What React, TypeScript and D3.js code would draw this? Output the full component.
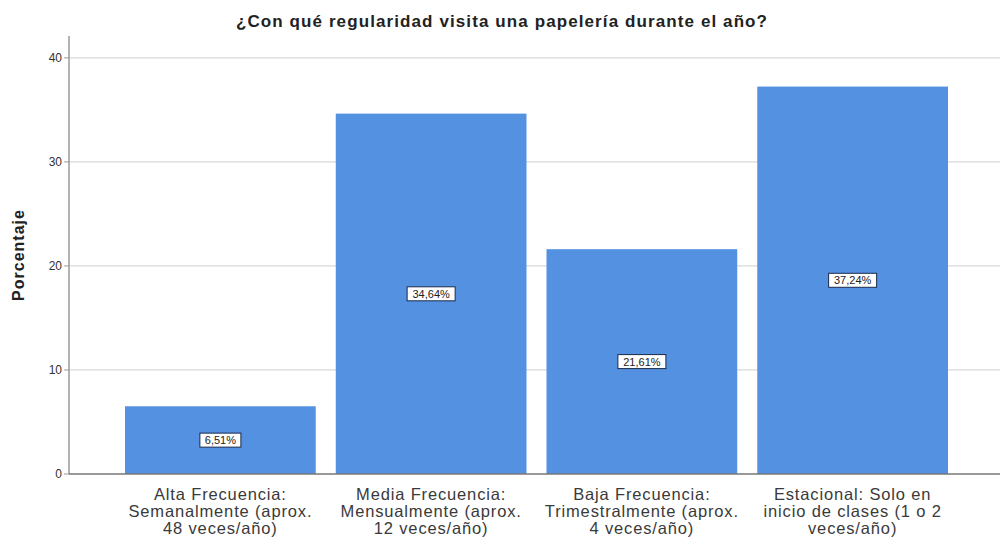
import React from "react";
import * as d3 from "d3";

const title = "¿Con qué regularidad visita una papelería durante el año?";
const yTitle = "Porcentaje";
const categories: string[][] = [
  ["Alta Frecuencia:", "Semanalmente (aprox.", "48 veces/año)"],
  ["Media Frecuencia:", "Mensualmente (aprox.", "12 veces/año)"],
  ["Baja Frecuencia:", "Trimestralmente (aprox.", "4 veces/año)"],
  ["Estacional: Solo en", "inicio de clases (1 o 2", "veces/año)"],
];
const values = [6.51, 34.64, 21.61, 37.24];
const valueLabels = ["6,51%", "34,64%", "21,61%", "37,24%"];
const yTicks = [0, 10, 20, 30, 40];

const W = 1000;
const H = 544;
const plotLeft = 69;
const plotRight = 1000;
const plotTop = 36;
const plotBottom = 474;
const barColor = "#5591e1";
const font = "'Liberation Sans', Arial, sans-serif";

export default function App() {
  const keys = categories.map((_, i) => String(i));
  const x = d3
    .scaleBand<string>()
    .domain(keys)
    .range([115, 958])
    .paddingInner(0.095)
    .paddingOuter(0.0475);
  const y = d3.scaleLinear().domain([0, 42.1]).range([plotBottom, plotTop]);

  return (
    <svg
      width={W}
      height={H}
      style={{ position: "absolute", left: 0, top: 0, background: "#fff" }}
      fontFamily={font}
    >
      <rect x={0} y={0} width={W} height={H} fill="#fff" />
      <text
        x={502}
        y={27}
        textAnchor="middle"
        fontSize={17}
        letterSpacing={1.1}
        fontWeight="bold"
        fill="#222"
      >
        {title}
      </text>
      {/* gridlines */}
      {yTicks
        .filter((t) => t > 0)
        .map((t) => (
          <line
            key={"g" + t}
            x1={plotLeft}
            x2={plotRight}
            y1={y(t)}
            y2={y(t)}
            stroke="#d8d8d8"
            strokeWidth={1.2}
          />
        ))}
      {/* bars */}
      {values.map((v, i) => (
        <rect
          key={"b" + i}
          x={x(keys[i])}
          y={y(v)}
          width={x.bandwidth()}
          height={y(0) - y(v)}
          fill={barColor}
        />
      ))}
      {/* axes */}
      <line x1={plotLeft} x2={plotLeft} y1={plotTop} y2={plotBottom} stroke="#9a9a9a" strokeWidth={1.5} />
      <line x1={plotLeft} x2={plotRight} y1={plotBottom} y2={plotBottom} stroke="#777" strokeWidth={1.5} />
      {yTicks.map((t) => (
        <g key={"t" + t}>
          <line x1={plotLeft - 5} x2={plotLeft} y1={y(t)} y2={y(t)} stroke="#9a9a9a" strokeWidth={1} />
          <text
            x={plotLeft - 7}
            y={y(t)}
            dy="0.35em"
            textAnchor="end"
            fontSize={12}
            fill="#333"
          >
            {t}
          </text>
        </g>
      ))}
      <text
        transform={`translate(24, 255) rotate(-90)`}
        textAnchor="middle"
        fontSize={16}
        letterSpacing={1}
        fontWeight="bold"
        fill="#222"
      >
        {yTitle}
      </text>
      {/* category labels */}
      {categories.map((lines, i) => (
        <text
          key={"c" + i}
          x={(x(keys[i]) as number) + x.bandwidth() / 2}
          y={500}
          textAnchor="middle"
          fontSize={16.5}
          letterSpacing={0.85}
          fill="#3a3a3a"
        >
          {lines.map((l, j) => (
            <tspan key={j} x={(x(keys[i]) as number) + x.bandwidth() / 2} dy={j === 0 ? 0 : 16.8}>
              {l}
            </tspan>
          ))}
        </text>
      ))}
      {/* value labels */}
      {values.map((v, i) => {
        const cx = (x(keys[i]) as number) + x.bandwidth() / 2;
        const cy = (y(v) + y(0)) / 2;
        const label = valueLabels[i];
        const w = label.length * 7 + 6;
        return (
          <g key={"v" + i}>
            <rect x={cx - w / 2} y={cy - 7} width={w} height={14} fill="#fff" stroke="#1a2a4a" strokeWidth={1} />
            <text x={cx} y={cy} dy="0.36em" textAnchor="middle" fontSize={11} fill="#222">
              {label}
            </text>
          </g>
        );
      })}
    </svg>
  );
}
